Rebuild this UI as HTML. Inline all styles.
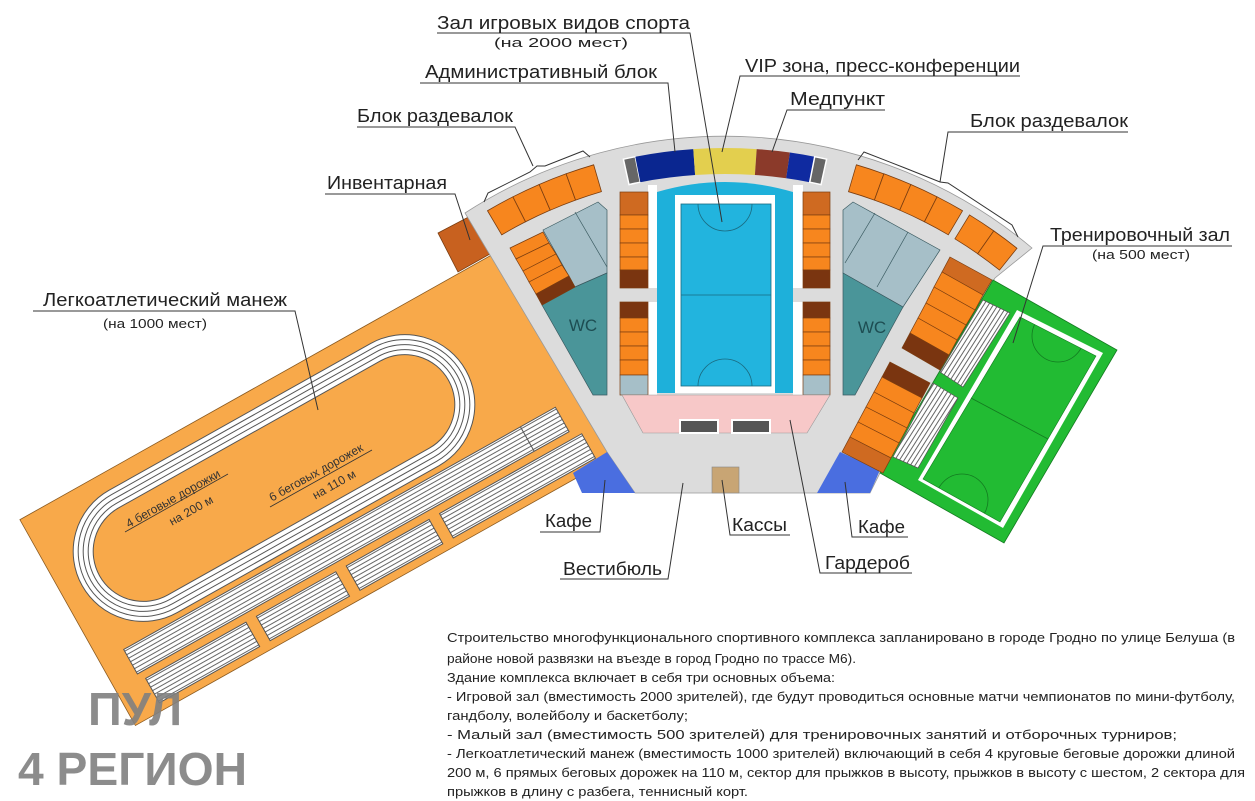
<!DOCTYPE html>
<html><head><meta charset="utf-8"><style>
html,body{margin:0;padding:0;background:#fff;}
svg{display:block;}
text{font-family:"Liberation Sans","DejaVu Sans",sans-serif;}
</style></head><body>
<svg width="1255" height="801" viewBox="0 0 1255 801" xmlns="http://www.w3.org/2000/svg">
<defs>
<path id="seg" d="M725,146 A468,468 0 0 1 754,146.9 L752.2,174.8 A440,440 0 0 0 725,174 Z" fill="#f7861e" stroke="#7a3d10" stroke-width="0.8"/>
<pattern id="str" width="6" height="4" patternUnits="userSpaceOnUse" patternTransform="rotate(122.4)">
<rect width="6" height="4" fill="#fff"/><line x1="0" y1="2" x2="6" y2="2" stroke="#555" stroke-width="0.9"/></pattern>
<pattern id="str2" width="6" height="4" patternUnits="userSpaceOnUse">
<rect width="6" height="4" fill="#fff"/><line x1="0" y1="2" x2="6" y2="2" stroke="#555" stroke-width="0.9"/></pattern>
<clipPath id="fld"><polygon points="1020,317 1096,356 1000,522 923,479"/></clipPath>
</defs>

<!-- Manege -->
<g transform="translate(274,478) rotate(-29.3)">
<rect x="-242" y="-88" width="560" height="236" fill="#f8a94a" stroke="#8a5a20" stroke-width="0.8"/>
<rect x="-220" y="-70" width="440" height="140" rx="70" fill="#fff" stroke="#555"/>
<rect x="-215" y="-65" width="430" height="130" rx="65" fill="none" stroke="#555"/>
<rect x="-210" y="-60" width="420" height="120" rx="60" fill="none" stroke="#555"/>
<rect x="-205" y="-55" width="410" height="110" rx="55" fill="none" stroke="#555"/>
<rect x="-200" y="-50" width="400" height="100" rx="50" fill="#f8a94a" stroke="#555"/>
<rect x="-215" y="76" width="495" height="28" fill="url(#str2)" stroke="#555"/>
<line x1="240" y1="76" x2="240" y2="104" stroke="#555"/>
<rect x="-210" y="112" width="115" height="28" fill="url(#str2)" stroke="#555"/>
<rect x="-83" y="112" width="91" height="28" fill="url(#str2)" stroke="#555"/>
<rect x="20" y="112" width="95" height="28" fill="url(#str2)" stroke="#555"/>
<rect x="127" y="112" width="163" height="28" fill="url(#str2)" stroke="#555"/>
</g>
<g font-size="12" fill="#333">
<text transform="translate(175,502) rotate(-29.3)" text-anchor="middle">4 беговые дорожки</text>
<text transform="translate(193,514) rotate(-29.3)" text-anchor="middle">на 200 м</text>
<text transform="translate(318,476) rotate(-29.3)" text-anchor="middle">6 беговых дорожек</text>
<text transform="translate(336,488) rotate(-29.3)" text-anchor="middle">на 110 м</text>
</g>
<line x1="125" y1="532" x2="228" y2="474" stroke="#333" stroke-width="0.8"/>
<line x1="270" y1="507" x2="372" y2="450" stroke="#333" stroke-width="0.8"/>

<!-- Inventory -->
<polygon points="438,233 478,212 497,250 458,272" fill="#c8611f" stroke="#7a3d10" stroke-width="0.8"/>

<!-- Gray building -->
<path d="M465,213 A478,478 0 0 1 1032,248 L995,278 L880,473 L870,493 L635,493 L607,452 Z" fill="#dcdcdc" stroke="#999" stroke-width="0.8"/>

<!-- top band -->
<path d="M623.4,159.2 A466,466 0 0 1 635.3,156.7 L640.3,182.2 A440,440 0 0 0 629,184.6 Z" fill="#666" stroke="#fff" stroke-width="1.5"/>
<path d="M635.3,156.7 A466,466 0 0 1 693.3,149.1 L695.1,175 A440,440 0 0 0 640.3,182.2 Z" fill="#0a2690"/>
<path d="M693.3,149.1 A466,466 0 0 1 756.7,149.1 L754.9,175 A440,440 0 0 0 695.1,175 Z" fill="#e3cf4e"/>
<path d="M756.7,149.1 A466,466 0 0 1 789.9,152.5 L786.2,178.3 A440,440 0 0 0 754.9,175 Z" fill="#8b3a2a"/>
<path d="M789.9,152.5 A466,466 0 0 1 814.7,156.7 L809.7,182.2 A440,440 0 0 0 786.2,178.3 Z" fill="#0f2aa0"/>
<path d="M814.7,156.7 A466,466 0 0 1 826.6,159.2 L821,184.6 A440,440 0 0 0 809.7,182.2 Z" fill="#666" stroke="#fff" stroke-width="1.5"/>

<!-- changing blocks -->
<use href="#seg" transform="rotate(-30.5 725 614)"/>
<use href="#seg" transform="rotate(-26.95 725 614)"/>
<use href="#seg" transform="rotate(-23.4 725 614)"/>
<use href="#seg" transform="rotate(-19.85 725 614)"/>
<use href="#seg" transform="rotate(16.3 725 614)"/>
<use href="#seg" transform="rotate(19.85 725 614)"/>
<use href="#seg" transform="rotate(23.4 725 614)"/>
<use href="#seg" transform="rotate(26.95 725 614)"/>
<use href="#seg" transform="rotate(31.5 725 614)"/>
<use href="#seg" transform="rotate(35.05 725 614)"/>

<!-- court -->
<path d="M657,192 Q725,172 793,192 L793,393 L657,393 Z" fill="#1eb0da"/>
<rect x="675" y="195" width="100" height="198" fill="#fff"/>
<rect x="681" y="204" width="90" height="182" fill="#22b4de" stroke="#1a6a80" stroke-width="0.8"/>
<line x1="681" y1="295" x2="771" y2="295" stroke="#1a6a80" stroke-width="0.8"/>
<path d="M698,204 A27,27 0 0 0 752,204" fill="none" stroke="#1a6a80" stroke-width="0.8"/>
<path d="M698,386 A27,27 0 0 1 752,386" fill="none" stroke="#1a6a80" stroke-width="0.8"/>
<rect x="648" y="185" width="9" height="103" fill="#fff"/>
<rect x="648" y="302" width="9" height="93" fill="#fff"/>
<rect x="793" y="185" width="10" height="103" fill="#fff"/>
<rect x="793" y="302" width="10" height="93" fill="#fff"/>
<g stroke="#7a3d10" stroke-width="0.7">
<rect x="620" y="192" width="28" height="23" fill="#cf6a21"/>
<rect x="620" y="215" width="28" height="14" fill="#f7861e"/>
<rect x="620" y="229" width="28" height="14" fill="#f7861e"/>
<rect x="620" y="243" width="28" height="14" fill="#f7861e"/>
<rect x="620" y="257" width="28" height="13" fill="#f7861e"/>
<rect x="620" y="270" width="28" height="18" fill="#7a3510"/>
<rect x="620" y="302" width="28" height="16" fill="#7a3510"/>
<rect x="620" y="318" width="28" height="14" fill="#f7861e"/>
<rect x="620" y="332" width="28" height="14" fill="#f7861e"/>
<rect x="620" y="346" width="28" height="14" fill="#f7861e"/>
<rect x="620" y="360" width="28" height="15" fill="#f7861e"/>
<rect x="620" y="375" width="28" height="20" fill="#a6bfc8"/>
<rect x="803" y="192" width="27" height="23" fill="#cf6a21"/>
<rect x="803" y="215" width="27" height="14" fill="#f7861e"/>
<rect x="803" y="229" width="27" height="14" fill="#f7861e"/>
<rect x="803" y="243" width="27" height="14" fill="#f7861e"/>
<rect x="803" y="257" width="27" height="13" fill="#f7861e"/>
<rect x="803" y="270" width="27" height="18" fill="#7a3510"/>
<rect x="803" y="302" width="27" height="16" fill="#7a3510"/>
<rect x="803" y="318" width="27" height="14" fill="#f7861e"/>
<rect x="803" y="332" width="27" height="14" fill="#f7861e"/>
<rect x="803" y="346" width="27" height="14" fill="#f7861e"/>
<rect x="803" y="360" width="27" height="15" fill="#f7861e"/>
<rect x="803" y="375" width="27" height="20" fill="#a6bfc8"/>
</g>

<!-- pink lobby -->
<polygon points="622,395 830,395 807,433 643,433" fill="#f7c8c8" stroke="#999" stroke-width="0.6"/>
<rect x="680" y="420" width="38" height="13" fill="#555" stroke="#fff" stroke-width="2"/>
<rect x="732" y="420" width="38" height="13" fill="#555" stroke="#fff" stroke-width="2"/>
<rect x="712" y="467" width="27" height="26" fill="#c8a574" stroke="#888" stroke-width="0.6"/>

<!-- cafes -->
<polygon points="573,473 607,452 635,493 582,493" fill="#4a6ee0"/>
<polygon points="840,452 880,470 870,493 817,493" fill="#4a6ee0"/>

<!-- left wing -->
<polygon points="543,230 598,202 607,210 607,273 575,287" fill="#a6bfc8" stroke="#3a5a60" stroke-width="0.7"/>
<line x1="575" y1="212" x2="607" y2="267" stroke="#3a5a60" stroke-width="0.7"/>
<polygon points="542,305 575,287 607,273 607,395 593,395" fill="#4a9599" stroke="#3a5a60" stroke-width="0.7"/>
<text x="583" y="331" font-size="17" fill="#1d4d52" text-anchor="middle">WC</text>
<g stroke="#7a3d10" stroke-width="0.7">
<polygon points="510,248 543,232 549,243 516,259" fill="#f7861e"/>
<polygon points="516,259 549,243 556,254 523,271" fill="#f7861e"/>
<polygon points="523,271 556,254 562,265 529,282" fill="#f7861e"/>
<polygon points="529,282 562,265 569,276 536,294" fill="#f7861e"/>
<polygon points="536,294 569,276 575,287 542,305" fill="#7a3510"/>
</g>

<!-- right wing -->
<polygon points="853,202 940,250 903,307 843,273 843,210" fill="#a6bfc8" stroke="#3a5a60" stroke-width="0.7"/>
<line x1="875" y1="213" x2="845" y2="263" stroke="#3a5a60" stroke-width="0.7"/>
<line x1="908" y1="232" x2="877" y2="287" stroke="#3a5a60" stroke-width="0.7"/>
<polygon points="843,273 903,307 855,395 843,395" fill="#4a9599" stroke="#3a5a60" stroke-width="0.7"/>
<text x="872" y="333" font-size="17" fill="#1d4d52" text-anchor="middle">WC</text>

<!-- training hall -->
<polygon points="993,280 1117,350 1004,543 880,473" fill="#22bb33" stroke="#137a20" stroke-width="0.8"/>
<polygon points="1017,310 1103,353 1003,528 918,480" fill="#fff"/>
<polygon points="1020,317 1096,356 1000,522 923,479" fill="#22bb33" stroke="#137a20" stroke-width="0.6"/>
<line x1="971" y1="398" x2="1048" y2="439" stroke="#137a20" stroke-width="0.8"/>
<g clip-path="url(#fld)" fill="none" stroke="#137a20" stroke-width="0.8">
<circle cx="1058" cy="336" r="26"/>
<circle cx="962" cy="500" r="26"/>
</g>
<polygon points="983,300 1010,313 963,387 940,372" fill="url(#str)" stroke="#555" stroke-width="0.7"/>
<polygon points="933,383 958,398 918,468 893,457" fill="url(#str)" stroke="#555" stroke-width="0.7"/>
<g stroke="#7a3d10" stroke-width="0.7">
<polygon points="950,257 992,280 983,295 942,272" fill="#cf6a21"/>
<polygon points="942,272 983,295 975,310 934,287" fill="#f7861e"/>
<polygon points="934,287 975,310 966,325 926,303" fill="#f7861e"/>
<polygon points="926,303 966,325 957,340 918,318" fill="#f7861e"/>
<polygon points="918,318 957,340 949,355 910,333" fill="#f7861e"/>
<polygon points="910,333 949,355 940,370 902,348" fill="#7a3510"/>
<polygon points="890,362 930,383 922,398 882,377" fill="#7a3510"/>
<polygon points="882,377 922,398 914,413 874,392" fill="#f7861e"/>
<polygon points="874,392 914,413 907,428 866,407" fill="#f7861e"/>
<polygon points="866,407 907,428 899,443 858,422" fill="#f7861e"/>
<polygon points="858,422 899,443 891,458 850,437" fill="#f7861e"/>
<polygon points="850,437 891,458 883,473 842,452" fill="#cf6a21"/>
</g>

<!-- leader lines & brackets -->
<g stroke="#333" stroke-width="1" fill="none">
<path d="M437,33 H690 L722,222"/>
<path d="M420,83 H668 L675,152"/>
<path d="M1020,76 H740 L722,152"/>
<path d="M885,110 H787 L772,152"/>
<path d="M357,127 H515 L533,166"/>
<path d="M484,202 L488,193 L530,172 L537,166 L545,166 L583,151 L590,157"/>
<path d="M1128,132 H948 L940,182"/>
<path d="M858,160 L864,152 L905,168 L940,182 L948,183 L1012,225 L1018,237"/>
<path d="M325,194 H455 L470,240"/>
<path d="M1232,246 H1043 L1013,343"/>
<path d="M33,311 H295 L318,410"/>
<path d="M540,532 H600 L605,480"/>
<path d="M560,579 H668 L683,483"/>
<path d="M790,535 H730 L722,480"/>
<path d="M908,537 H852 L845,482"/>
<path d="M912,573 H820 L790,420"/>
</g>

<!-- labels -->
<g font-size="18" fill="#222">
<text x="437" y="29" textLength="253" lengthAdjust="spacingAndGlyphs">Зал игровых видов спорта</text>
<text x="425" y="78" textLength="232" lengthAdjust="spacingAndGlyphs">Административный блок</text>
<text x="745" y="72" textLength="275" lengthAdjust="spacingAndGlyphs">VIP зона, пресс-конференции</text>
<text x="790" y="105" textLength="95" lengthAdjust="spacingAndGlyphs">Медпункт</text>
<text x="357" y="122" textLength="156" lengthAdjust="spacingAndGlyphs">Блок раздевалок</text>
<text x="970" y="127" textLength="158" lengthAdjust="spacingAndGlyphs">Блок раздевалок</text>
<text x="327" y="189" textLength="120" lengthAdjust="spacingAndGlyphs">Инвентарная</text>
<text x="1050" y="241" textLength="180" lengthAdjust="spacingAndGlyphs">Тренировочный зал</text>
<text x="43" y="306" textLength="244" lengthAdjust="spacingAndGlyphs">Легкоатлетический манеж</text>
<text x="545" y="527" textLength="47" lengthAdjust="spacingAndGlyphs">Кафе</text>
<text x="563" y="575" textLength="99" lengthAdjust="spacingAndGlyphs">Вестибюль</text>
<text x="732" y="531" textLength="55" lengthAdjust="spacingAndGlyphs">Кассы</text>
<text x="858" y="533" textLength="47" lengthAdjust="spacingAndGlyphs">Кафе</text>
<text x="825" y="569" textLength="85" lengthAdjust="spacingAndGlyphs">Гардероб</text>
</g>
<g font-size="13" fill="#222">
<text x="494" y="47" textLength="134" lengthAdjust="spacingAndGlyphs">(на 2000 мест)</text>
<text x="1092" y="259" textLength="98" lengthAdjust="spacingAndGlyphs">(на 500 мест)</text>
<text x="103" y="328" textLength="104" lengthAdjust="spacingAndGlyphs">(на 1000 мест)</text>
</g>

<!-- paragraph -->
<g font-size="13" fill="#222">
<text x="447" y="642" textLength="788" lengthAdjust="spacingAndGlyphs">Строительство многофункционального спортивного комплекса запланировано в городе Гродно по улице Белуша (в</text>
<text x="447" y="663" textLength="409" lengthAdjust="spacingAndGlyphs">районе новой развязки на въезде в город Гродно по трассе М6).</text>
<text x="447" y="682" textLength="388" lengthAdjust="spacingAndGlyphs">Здание комплекса включает в себя три основных объема:</text>
<text x="447" y="701" textLength="788" lengthAdjust="spacingAndGlyphs">- Игровой зал (вместимость 2000 зрителей), где будут проводиться основные матчи чемпионатов по мини-футболу,</text>
<text x="447" y="720" textLength="241" lengthAdjust="spacingAndGlyphs">гандболу, волейболу и баскетболу;</text>
<text x="447" y="739" textLength="730" lengthAdjust="spacingAndGlyphs">- Малый зал (вместимость 500 зрителей) для тренировочных занятий и отборочных турниров;</text>
<text x="447" y="758" textLength="788" lengthAdjust="spacingAndGlyphs">- Легкоатлетический манеж (вместимость 1000 зрителей) включающий в себя 4 круговые беговые дорожки длиной</text>
<text x="447" y="777" textLength="798" lengthAdjust="spacingAndGlyphs">200 м, 6 прямых беговых дорожек на 110 м, сектор для прыжков в высоту, прыжков в высоту с шестом, 2 сектора для</text>
<text x="447" y="796" textLength="301" lengthAdjust="spacingAndGlyphs">прыжков в длину с разбега, теннисный корт.</text>
</g>

<!-- watermark -->
<g font-size="46" font-weight="bold" fill="#808080" fill-opacity="0.9">
<text x="88" y="725" textLength="94" lengthAdjust="spacingAndGlyphs">ПУЛ</text>
<text x="18" y="785" textLength="229" lengthAdjust="spacingAndGlyphs">4 РЕГИОН</text>
</g>
</svg>
</body></html>
